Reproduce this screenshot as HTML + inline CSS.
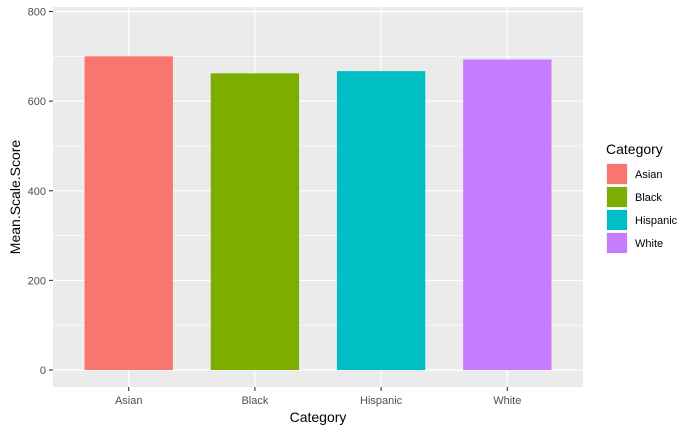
<!DOCTYPE html>
<html><head><meta charset="utf-8"><style>
body{margin:0;background:#fff;font-family:"Liberation Sans",Arial,sans-serif}
</style></head><body>
<svg width="700" height="432" xmlns="http://www.w3.org/2000/svg">
<g id="plot"></g>
</svg>
<script>
const categories=["Asian","Black","Hispanic","White"];
const values=[700,662,667,693];
const colors=["#F8766D","#7CAE00","#00BFC4","#C77CFF"];
const yTicks=[0,200,400,600,800];
const svgNS="http://www.w3.org/2000/svg";
const g=document.getElementById('plot');
const L=53,R=583,T=7,B=387;
const y0=370,yTop=11.5;
function y(v){return y0-(v/800)*(y0-yTop);}
const band=(R-L)/(categories.length-1+1.2);
function x(i){return L+band*(0.6+i);}
function el(tag,attrs,text){const e=document.createElementNS(svgNS,tag);for(const k in attrs)e.setAttribute(k,attrs[k]);if(text!==undefined)e.textContent=text;g.appendChild(e);return e;}
let p=el('rect',{x:L,y:T,width:R-L,height:B-T,fill:'#EBEBEB'});


for(let i=0;i<yTicks.length-1;i++){const m=(yTicks[i]+yTicks[i+1])/2;el('line',{x1:L,x2:R,y1:y(m),y2:y(m),stroke:'#fff','stroke-width':0.6});}
yTicks.forEach(t=>{
 el('line',{x1:L,x2:R,y1:y(t),y2:y(t),stroke:'#fff','stroke-width':1.2});
 el('line',{x1:L-4,x2:L,y1:y(t),y2:y(t),stroke:'#333','stroke-width':1.1});
 const tx=el('text',{x:L-7,y:y(t)+4,'text-anchor':'end','font-size':11,fill:'#4D4D4D'},t);
 
 
});
categories.forEach((c,i)=>{
 el('line',{x1:x(i),x2:x(i),y1:T,y2:B,stroke:'#fff','stroke-width':1.2});
});
categories.forEach((c,i)=>{
 const bw=band*0.7;
 const r=el('rect',{x:x(i)-bw/2,y:y(values[i]),width:bw,height:y0-y(values[i]),fill:colors[i]});
 
 
 el('line',{x1:x(i),x2:x(i),y1:B,y2:B+4,stroke:'#333','stroke-width':1.1});
 const t=el('text',{x:x(i),y:B+17,'text-anchor':'middle','font-size':11,fill:'#4D4D4D'},c);
 
 
});
let xt=el('text',{x:(L+R)/2,y:422,'text-anchor':'middle','font-size':14,fill:'#000'},'Category');


let yt=el('text',{x:0,y:0,'text-anchor':'middle','font-size':14,fill:'#000',transform:`translate(20,${(T+B)/2}) rotate(-90)`},'Mean.Scale.Score');


let lt=el('text',{x:606,y:154,'font-size':14,fill:'#000'},'Category');


categories.forEach((c,i)=>{
 const ky=163+i*23;
 const k=el('rect',{x:606,y:ky,width:22,height:22,fill:'#F2F2F2'});
 
 
 el('rect',{x:607,y:ky+1,width:20,height:20,fill:colors[i]});
 el('text',{x:635,y:ky+15,'font-size':11,fill:'#000'},c);
});
</script>
</body></html>
